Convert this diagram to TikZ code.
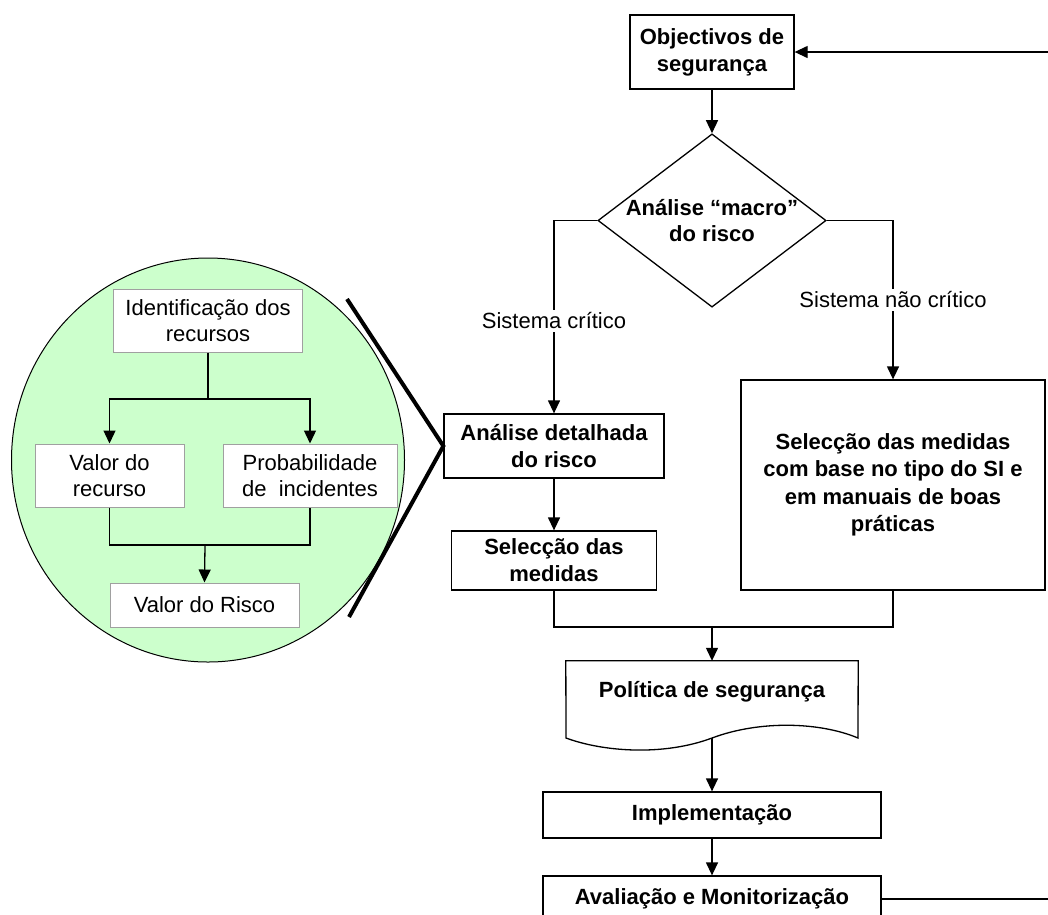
\documentclass[tikz,border=0pt]{standalone}
\usepackage{fontspec}
\setmainfont{Liberation Sans}
\usetikzlibrary{arrows.meta,shapes.geometric}
\definecolor{bubble}{RGB}{204,255,204}
\definecolor{softgray}{RGB}{160,160,160}
\begin{document}
\begin{tikzpicture}[x=1pt,y=-1pt,
  every node/.style={font=\fontsize{22}{26}\selectfont, align=center},
  mainbox/.style={draw, line width=1.3pt, fill=white, inner sep=0pt,
    font=\fontsize{22}{27}\selectfont\bfseries},
  subbox/.style={draw=softgray, line width=1pt, fill=white, inner sep=0pt},
  link/.style={line width=1.3pt},
  arr/.style={link, -{Triangle[length=13pt,width=12pt]}},
  branchlabel/.style={fill=white, inner sep=3pt}]
\useasboundingbox (0,0) rectangle (1048,914);
\clip (0,0) rectangle (1048,914);

% ---- detail bubble: how the risk value is obtained ----
\draw[fill=bubble, line width=1pt] (208,460) ellipse [x radius=196.5, y radius=202];
\node[subbox, minimum width=189pt, minimum height=63pt] (idr) at (208,320.5)
  {Identificação dos\\recursos};
\node[subbox, minimum width=149pt, minimum height=63pt] (vr) at (109.5,475.5)
  {Valor do\\recurso};
\node[subbox, minimum width=174pt, minimum height=63pt] (pi) at (310,475.5)
  {Probabilidade\\de~ incidentes};
\node[subbox, minimum width=189pt, minimum height=44pt] (vrisk) at (204.5,605)
  {Valor do Risco};
\coordinate (split) at (208,399);
\coordinate (merge) at (205,545);
\draw[link] (idr.south) -- (split);
\draw[arr] (split) -| (vr.north);
\draw[arr] (split) -| (pi.north);
\draw[link] (vr.south) |- (merge) -| (pi.south);
\draw[arr] (merge) -- (vrisk.north);

% ---- main flow ----
\node[mainbox, minimum width=164pt, minimum height=74pt] (obj) at (712,52)
  {Objectivos de\\segurança};
\node[draw, shape=diamond, line width=1.3pt, inner sep=0pt, aspect=1.317,
  minimum width=220pt, minimum height=167pt,
  font=\fontsize{22}{26}\selectfont\bfseries] (macro) at (712,220.5)
  {Análise “macro”\\do risco};
\node[mainbox, minimum width=220pt, minimum height=64pt] (ana) at (554,446)
  {Análise detalhada\\do risco};
\node[mainbox, minimum width=205pt, minimum height=59pt] (sel) at (554,560.5)
  {Selecção das\\medidas};
\node[mainbox, minimum width=304pt, minimum height=210pt,
  font=\fontsize{22}{27.5}\selectfont\bfseries] (big) at (893,485)
  {Selecção das medidas\\com base no tipo do SI e\\em manuais de boas\\práticas};

% policy document with a wavy lower edge
\node[inner sep=0pt, minimum width=292pt, minimum height=62pt,
  font=\fontsize{22}{27}\selectfont\bfseries] (pol) at (712,692)
  {Política de segurança};
\coordinate (polbot) at (712,738);
\draw[line width=1.3pt, fill=white] (pol.north west) -- (pol.north east)
  -- (858,738) .. controls (820,722) and (760,720) .. (polbot)
  .. controls (664,756) and (604,752) .. (566,738) -- cycle;
\node[inner sep=0pt, font=\fontsize{22}{27}\selectfont\bfseries] at (pol) {Política de segurança};

\node[mainbox, minimum width=338pt, minimum height=46pt] (imp) at (712,815)
  {Implementação};
\node[mainbox, minimum width=338pt, minimum height=46pt] (ava) at (712,899)
  {Avaliação e Monitorização};

% connectors
\draw[arr] (obj.south) -- (macro.north);
\draw[arr] (macro.west) -| node[branchlabel, pos=0.76] {Sistema crítico} (ana.north);
\draw[arr] (macro.east) -| node[branchlabel, pos=0.75] {Sistema não crítico} (big.north);
\draw[arr] (ana.south) -- (sel.north);
\coordinate (join) at (712,627);
\draw[link] (sel.south) |- (join) -| (big.south);
\draw[arr] (join) -- (pol.north);
\draw[arr] (polbot) -- (imp.north);
\draw[arr] (imp.south) -- (ava.north);
\draw[arr] (ava.east) -- ++(172,0) |- (obj.east);

% zoom bracket linking the bubble to the detailed analysis
\draw[line width=4pt] (347,299) -- (ana.west) -- (349,617);
\end{tikzpicture}
\end{document}
